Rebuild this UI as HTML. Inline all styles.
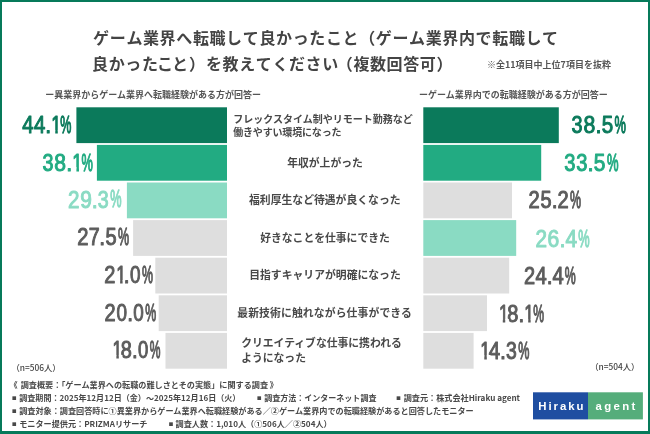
<!DOCTYPE html>
<html lang="ja"><head><meta charset="utf-8"><title>ゲーム業界へ転職して良かったこと</title>
<style>
html,body{margin:0;padding:0;background:#fff}
svg{display:block}
text{font-family:"Liberation Sans","Noto Sans CJK JP",sans-serif}
.j{font-family:"Noto Sans CJK JP","Liberation Sans",sans-serif}
.t{font-weight:700;font-size:16px;fill:#444}
.s{font-weight:700;font-size:9px;fill:#555}
.c{font-weight:700;font-size:10.8px;fill:#484848}
.c1{font-weight:700;font-size:10px;fill:#484848}
.p{font-weight:400;font-size:23.0px;stroke-linejoin:round}
.f{font-weight:700;font-size:8.13px;fill:#484848}
.n{font-weight:500;font-size:8.35px;fill:#444}
.lg{font-weight:700;font-size:11.4px;fill:#fff}
</style></head><body>
<svg width="650" height="434" viewBox="0 0 650 434">
<rect x="0" y="0" width="650" height="434" fill="#fff"/>
<rect x="1" y="1" width="648" height="432" fill="none" stroke="#067a5a" stroke-width="2"/>
<rect x="0" y="431" width="650" height="3" fill="#067a5a"/>

<text class="j t" x="93.1 109.7 126.4 143.0 159.6 176.2 192.9 209.5 226.1 242.8 259.4 276.0 292.7 309.3 325.9 342.5 359.2 375.8 392.4 409.1 425.7 442.3 459.0 475.6 492.2 508.9 525.5 542.1" y="43.5">ゲーム業界へ転職して良かったこと（ゲーム業界内で転職して</text>
<text class="j t" x="92.1 108.7 125.3 141.9 157.0 172.1 189.0 206.0 222.6 239.2 255.8 272.4 289.0 305.6 322.2 336.8 353.4 370.0 386.6 403.2 419.8 436.4" y="69.5">良かったこと）を教えてください（複数回答可）</text>
<text class="j s" x="487" y="67.8">※全11項目中上位7項目を抜粋</text>
<text class="j s" x="45.3" y="98.3">ー異業界からゲーム業界へ転職経験がある方が回答ー</text>
<text class="j s" x="419.1" y="98.3">ーゲーム業界内での転職経験がある方が回答ー</text>
<rect x="76.4" y="107.3" width="150.6" height="35.8" fill="#0b7a5b"/>
<text class="p" y="133.1" fill="#0b7a5b" stroke="#0b7a5b" stroke-width="1.0"><tspan x="22.28" textLength="11.35" lengthAdjust="spacingAndGlyphs">4</tspan><tspan x="34.04" textLength="11.35" lengthAdjust="spacingAndGlyphs">4</tspan><tspan x="45.23" textLength="5.89" lengthAdjust="spacingAndGlyphs">.</tspan><tspan x="51.26" textLength="9.87" lengthAdjust="spacingAndGlyphs">1</tspan><tspan x="60.31" dy="-0.09" font-size="24.30" textLength="11.10" lengthAdjust="spacingAndGlyphs" stroke-width="1.3">%</tspan></text>
<rect x="96.9" y="144.9" width="130.1" height="35.8" fill="#22ab82"/>
<text class="p" y="170.8" fill="#22ab82" stroke="#22ab82" stroke-width="1.0"><tspan x="42.48" textLength="10.96" lengthAdjust="spacingAndGlyphs">3</tspan><tspan x="54.34" textLength="11.71" lengthAdjust="spacingAndGlyphs">8</tspan><tspan x="66.20" textLength="6.01" lengthAdjust="spacingAndGlyphs">.</tspan><tspan x="72.35" textLength="10.07" lengthAdjust="spacingAndGlyphs">1</tspan><tspan x="81.59" dy="-0.09" font-size="24.30" textLength="11.33" lengthAdjust="spacingAndGlyphs" stroke-width="1.3">%</tspan></text>
<rect x="126.9" y="182.5" width="100.1" height="35.8" fill="#8adbc3"/>
<text class="p" y="207.5" fill="#8adbc3" stroke="#8adbc3" stroke-width="1.0"><tspan x="68.01" textLength="11.44" lengthAdjust="spacingAndGlyphs">2</tspan><tspan x="80.13" textLength="11.62" lengthAdjust="spacingAndGlyphs">9</tspan><tspan x="91.81" textLength="5.99" lengthAdjust="spacingAndGlyphs">.</tspan><tspan x="97.87" textLength="10.92" lengthAdjust="spacingAndGlyphs">3</tspan><tspan x="110.23" dy="-0.09" font-size="24.30" textLength="11.28" lengthAdjust="spacingAndGlyphs" stroke-width="1.3">%</tspan></text>
<rect x="133.1" y="220.1" width="93.9" height="35.8" fill="#dedede"/>
<text class="p" y="245.2" fill="#5c5c5c" stroke="#5c5c5c" stroke-width="1.0"><tspan x="77.32" textLength="11.21" lengthAdjust="spacingAndGlyphs">2</tspan><tspan x="88.75" textLength="10.91" lengthAdjust="spacingAndGlyphs">7</tspan><tspan x="99.29" textLength="5.87" lengthAdjust="spacingAndGlyphs">.</tspan><tspan x="105.38" textLength="11.13" lengthAdjust="spacingAndGlyphs">5</tspan><tspan x="117.94" dy="-0.09" font-size="24.30" textLength="11.07" lengthAdjust="spacingAndGlyphs" stroke-width="1.3">%</tspan></text>
<rect x="155.3" y="257.7" width="71.7" height="35.8" fill="#dedede"/>
<text class="p" y="283.2" fill="#5c5c5c" stroke="#5c5c5c" stroke-width="1.0"><tspan x="104.33" textLength="11.11" lengthAdjust="spacingAndGlyphs">2</tspan><tspan x="116.18" textLength="9.75" lengthAdjust="spacingAndGlyphs">1</tspan><tspan x="123.86" textLength="5.82" lengthAdjust="spacingAndGlyphs">.</tspan><tspan x="129.93" textLength="10.53" lengthAdjust="spacingAndGlyphs">0</tspan><tspan x="141.95" dy="-0.09" font-size="24.30" textLength="10.96" lengthAdjust="spacingAndGlyphs" stroke-width="1.3">%</tspan></text>
<rect x="158.7" y="295.3" width="68.3" height="35.8" fill="#dedede"/>
<text class="p" y="320.9" fill="#5c5c5c" stroke="#5c5c5c" stroke-width="1.0"><tspan x="104.53" textLength="11.09" lengthAdjust="spacingAndGlyphs">2</tspan><tspan x="116.46" textLength="10.51" lengthAdjust="spacingAndGlyphs">0</tspan><tspan x="127.21" textLength="5.80" lengthAdjust="spacingAndGlyphs">.</tspan><tspan x="133.27" textLength="10.51" lengthAdjust="spacingAndGlyphs">0</tspan><tspan x="145.27" dy="-0.09" font-size="24.30" textLength="10.94" lengthAdjust="spacingAndGlyphs" stroke-width="1.3">%</tspan></text>
<rect x="165.5" y="332.9" width="61.5" height="35.8" fill="#dedede"/>
<text class="p" y="358.0" fill="#5c5c5c" stroke="#5c5c5c" stroke-width="1.0"><tspan x="112.52" textLength="9.54" lengthAdjust="spacingAndGlyphs">1</tspan><tspan x="120.75" textLength="11.09" lengthAdjust="spacingAndGlyphs">8</tspan><tspan x="131.98" textLength="5.69" lengthAdjust="spacingAndGlyphs">.</tspan><tspan x="137.91" textLength="10.30" lengthAdjust="spacingAndGlyphs">0</tspan><tspan x="149.68" dy="-0.09" font-size="24.30" textLength="10.73" lengthAdjust="spacingAndGlyphs" stroke-width="1.3">%</tspan></text>
<rect x="423.3" y="107.3" width="135.5" height="35.8" fill="#0b7a5b"/>
<text class="p" y="132.6" fill="#0b7a5b" stroke="#0b7a5b" stroke-width="1.0"><tspan x="571.58" textLength="11.02" lengthAdjust="spacingAndGlyphs">3</tspan><tspan x="583.51" textLength="11.78" lengthAdjust="spacingAndGlyphs">8</tspan><tspan x="595.43" textLength="6.04" lengthAdjust="spacingAndGlyphs">.</tspan><tspan x="601.69" textLength="11.45" lengthAdjust="spacingAndGlyphs">5</tspan><tspan x="614.62" dy="-0.09" font-size="24.30" textLength="11.39" lengthAdjust="spacingAndGlyphs" stroke-width="1.3">%</tspan></text>
<rect x="423.3" y="144.9" width="117.9" height="35.8" fill="#22ab82"/>
<text class="p" y="171.1" fill="#22ab82" stroke="#22ab82" stroke-width="1.0"><tspan x="564.17" textLength="11.17" lengthAdjust="spacingAndGlyphs">3</tspan><tspan x="576.19" textLength="11.17" lengthAdjust="spacingAndGlyphs">3</tspan><tspan x="587.52" textLength="6.12" lengthAdjust="spacingAndGlyphs">.</tspan><tspan x="593.87" textLength="11.60" lengthAdjust="spacingAndGlyphs">5</tspan><tspan x="606.97" dy="-0.09" font-size="24.30" textLength="11.54" lengthAdjust="spacingAndGlyphs" stroke-width="1.3">%</tspan></text>
<rect x="423.3" y="182.5" width="88.7" height="35.8" fill="#dedede"/>
<text class="p" y="208.4" fill="#5c5c5c" stroke="#5c5c5c" stroke-width="1.0"><tspan x="528.43" textLength="11.18" lengthAdjust="spacingAndGlyphs">2</tspan><tspan x="540.42" textLength="11.09" lengthAdjust="spacingAndGlyphs">5</tspan><tspan x="551.68" textLength="5.85" lengthAdjust="spacingAndGlyphs">.</tspan><tspan x="557.44" textLength="11.18" lengthAdjust="spacingAndGlyphs">2</tspan><tspan x="569.88" dy="-0.09" font-size="24.30" textLength="11.03" lengthAdjust="spacingAndGlyphs" stroke-width="1.3">%</tspan></text>
<rect x="423.3" y="220.1" width="92.9" height="35.8" fill="#8adbc3"/>
<text class="p" y="246.9" fill="#8adbc3" stroke="#8adbc3" stroke-width="1.0"><tspan x="535.41" textLength="11.52" lengthAdjust="spacingAndGlyphs">2</tspan><tspan x="547.53" textLength="11.72" lengthAdjust="spacingAndGlyphs">6</tspan><tspan x="559.38" textLength="6.03" lengthAdjust="spacingAndGlyphs">.</tspan><tspan x="565.38" textLength="11.63" lengthAdjust="spacingAndGlyphs">4</tspan><tspan x="578.14" dy="-0.09" font-size="24.30" textLength="11.37" lengthAdjust="spacingAndGlyphs" stroke-width="1.3">%</tspan></text>
<rect x="423.3" y="257.7" width="85.9" height="35.8" fill="#dedede"/>
<text class="p" y="284.4" fill="#5c5c5c" stroke="#5c5c5c" stroke-width="1.0"><tspan x="523.93" textLength="11.11" lengthAdjust="spacingAndGlyphs">2</tspan><tspan x="535.61" textLength="11.21" lengthAdjust="spacingAndGlyphs">4</tspan><tspan x="546.66" textLength="5.82" lengthAdjust="spacingAndGlyphs">.</tspan><tspan x="552.45" textLength="11.21" lengthAdjust="spacingAndGlyphs">4</tspan><tspan x="564.75" dy="-0.09" font-size="24.30" textLength="10.96" lengthAdjust="spacingAndGlyphs" stroke-width="1.3">%</tspan></text>
<rect x="423.3" y="295.3" width="63.7" height="35.8" fill="#dedede"/>
<text class="p" y="322.1" fill="#5c5c5c" stroke="#5c5c5c" stroke-width="1.0"><tspan x="498.92" textLength="9.59" lengthAdjust="spacingAndGlyphs">1</tspan><tspan x="507.19" textLength="11.15" lengthAdjust="spacingAndGlyphs">8</tspan><tspan x="518.47" textLength="5.72" lengthAdjust="spacingAndGlyphs">.</tspan><tspan x="524.33" textLength="9.59" lengthAdjust="spacingAndGlyphs">1</tspan><tspan x="533.13" dy="-0.09" font-size="24.30" textLength="10.78" lengthAdjust="spacingAndGlyphs" stroke-width="1.3">%</tspan></text>
<rect x="423.3" y="332.9" width="50.3" height="35.8" fill="#dedede"/>
<text class="p" y="358.7" fill="#5c5c5c" stroke="#5c5c5c" stroke-width="1.0"><tspan x="480.27" textLength="9.93" lengthAdjust="spacingAndGlyphs">1</tspan><tspan x="488.67" textLength="11.41" lengthAdjust="spacingAndGlyphs">4</tspan><tspan x="499.93" textLength="5.92" lengthAdjust="spacingAndGlyphs">.</tspan><tspan x="505.92" textLength="10.80" lengthAdjust="spacingAndGlyphs">3</tspan><tspan x="518.15" dy="-0.09" font-size="24.30" textLength="11.16" lengthAdjust="spacingAndGlyphs" stroke-width="1.3">%</tspan></text>
<rect x="51.00" y="130.00" width="4.24" height="4.00" fill="#fff"/>
<rect x="57.78" y="130.00" width="3.69" height="4.00" fill="#fff"/>
<rect x="72.00" y="167.00" width="4.41" height="5.00" fill="#fff"/>
<rect x="79.00" y="167.00" width="3.74" height="5.00" fill="#fff"/>
<rect x="116.00" y="280.00" width="4.10" height="4.00" fill="#fff"/>
<rect x="122.61" y="280.00" width="2.46" height="4.00" fill="#fff"/>
<rect x="113.00" y="355.00" width="3.36" height="4.00" fill="#fff"/>
<rect x="118.82" y="355.00" width="3.60" height="4.00" fill="#fff"/>
<rect x="499.00" y="319.00" width="3.78" height="4.00" fill="#fff"/>
<rect x="505.25" y="319.00" width="3.61" height="4.00" fill="#fff"/>
<rect x="524.00" y="319.00" width="4.19" height="4.00" fill="#fff"/>
<rect x="530.67" y="319.00" width="3.61" height="4.00" fill="#fff"/>
<rect x="480.00" y="355.00" width="4.27" height="5.00" fill="#fff"/>
<rect x="486.82" y="355.00" width="3.70" height="5.00" fill="#fff"/>
<text class="j c1" x="233.2" y="122.5">フレックスタイム制やリモート勤務など</text>
<text class="j c1" x="233.2" y="135.7" letter-spacing="-0.17">働きやすい環境になった</text>
<text class="j c" x="325" y="166.6" text-anchor="middle" letter-spacing="0">年収が上がった</text>
<text class="j c" x="324.8" y="203.9" text-anchor="middle" letter-spacing="0.03">福利厚生など待遇が良くなった</text>
<text class="j c" x="325" y="241.9" text-anchor="middle" letter-spacing="0">好きなことを仕事にできた</text>
<text class="j c" x="325" y="279.4" text-anchor="middle" letter-spacing="0.03">目指すキャリアが明確になった</text>
<text class="j c" x="324.6" y="316.7" text-anchor="middle" letter-spacing="0.14">最新技術に触れながら仕事ができる</text>
<text class="j c" x="241.2" y="347.1">クリエイティブな仕事に携われる</text>
<text class="j c" x="241.2" y="361.7">ようになった</text>
<text class="j n" x="11.4" y="370.5">（n=506人）</text>
<text class="j n" x="590.2" y="370.0">（n=504人）</text>
<text class="j f" x="9.6 17.6 20.7" y="388.0">《 調査概要：「ゲーム業界への転職の難しさとその実態」に関する調査 》</text>
<text class="j f" y="401.0"><tspan x="7.6" y="402.9" font-size="13.5">▪</tspan><tspan x="17.2 19.2" y="401.0" font-size="8.07"> 調査期間：2025年12月12日（金）～2025年12月16日（火）</tspan></text>
<text class="j f" y="401.0"><tspan x="252.5" y="402.9" font-size="13.5">▪</tspan><tspan x="262.2 264.2" y="401.0" font-size="8.03"> 調査方法：インターネット調査</tspan></text>
<text class="j f" y="401.0"><tspan x="391.8" y="402.9" font-size="13.5">▪</tspan><tspan x="401.7 403.7" y="401.0"> 調査元：株式会社Hiraku agent</tspan></text>
<text class="j f" y="413.8"><tspan x="7.6" y="415.7" font-size="13.5">▪</tspan><tspan x="17.2 19.2" y="413.8"> 調査対象：調査回答時に①異業界からゲーム業界へ転職経験がある／②ゲーム業界内での転職経験があると回答したモニター</tspan></text>
<text class="j f" y="426.6"><tspan x="7.6" y="428.5" font-size="13.5">▪</tspan><tspan x="17.2 19.2" y="426.6"> モニター提供元：PRIZMAリサーチ</tspan></text>
<text class="j f" y="426.6"><tspan x="164.3" y="428.5" font-size="13.5">▪</tspan><tspan x="173.5 175.5" y="426.6"> 調査人数：1,010人（①506人／②504人）</tspan></text>
<rect x="533" y="392.3" width="55" height="27.1" fill="#1f4ea1"/>
<rect x="588" y="392.3" width="54.9" height="27.1" fill="#55ad7b"/>
<text class="lg" x="538.3" y="409.6" textLength="45.2" lengthAdjust="spacing">Hiraku</text>
<text class="lg" x="595.6" y="409.6" textLength="39.8" lengthAdjust="spacing">agent</text>
</svg></body></html>
